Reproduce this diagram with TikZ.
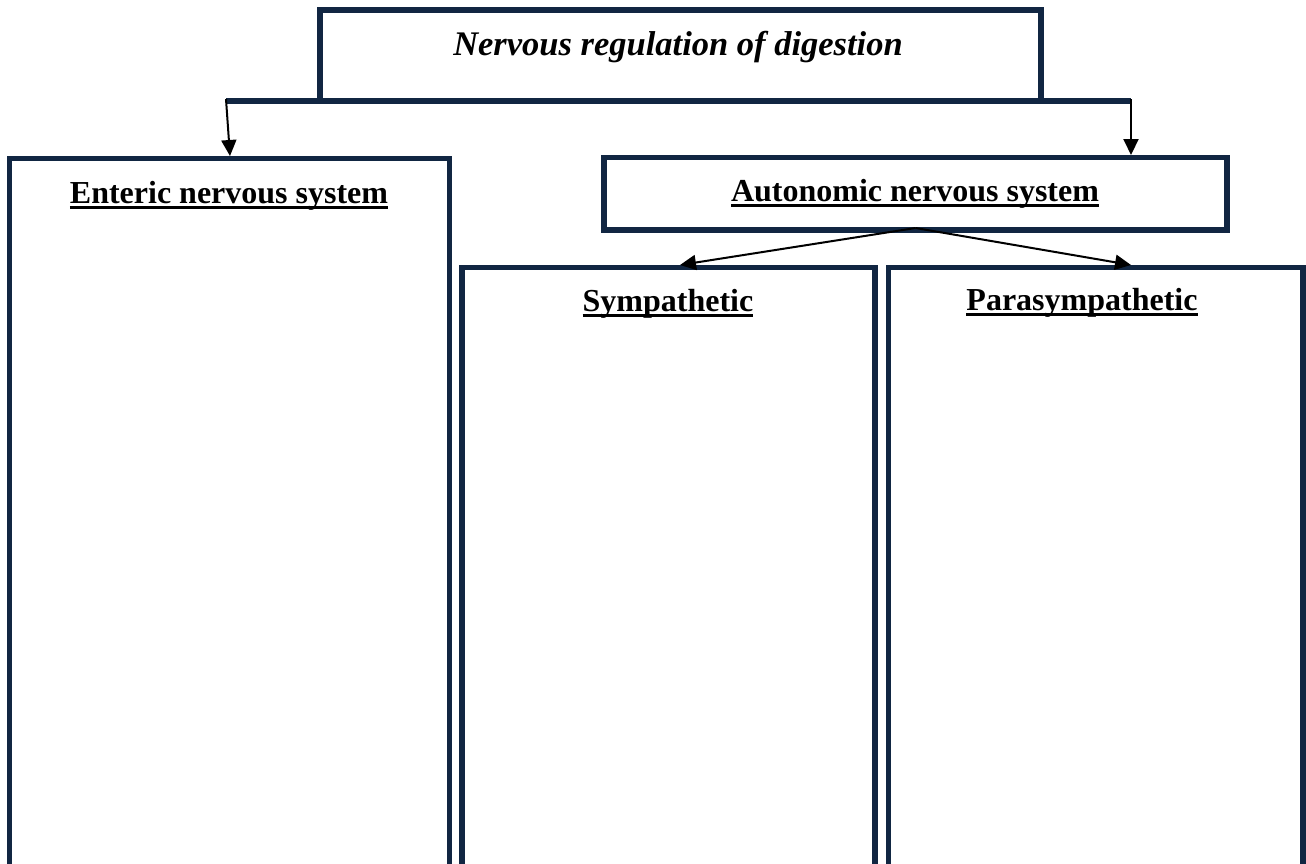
\documentclass[tikz,border=0pt]{standalone}
\usepackage{fontspec}
\setmainfont{Liberation Serif}
\usetikzlibrary{arrows.meta}
\definecolor{framecol}{RGB}{17,38,66}
\newsavebox\ulbox
% bold heading with a heavy underline
\newcommand{\ulhead}[1]{\sbox\ulbox{#1}\rlap{\rule[-6pt]{\wd\ulbox}{3pt}}\usebox\ulbox}
\begin{document}
\begin{tikzpicture}[x=1pt,y=-1pt,
  panel/.style={draw=framecol, line width=5.5pt, inner sep=0pt, outer sep=0pt, anchor=north west},
  link/.style={draw=black, line width=2pt, -{Triangle[width=15pt,length=16pt]}},
  bar/.style={draw=framecol, line width=5.5pt},
  heading/.style={font=\fontsize{32}{38}\selectfont\bfseries, inner sep=0pt, anchor=base}]
\useasboundingbox (0,0) rectangle (1306,863);
\clip (0,0) rectangle (1306,863);

% boxes (the tall ones run past the lower edge)
\node[panel, minimum width=721pt, minimum height=91pt] (title) at (320,10) {};
\node[panel, minimum width=440pt, minimum height=760pt] (enteric) at (9.5,158.5) {};
\node[panel, minimum width=623pt, minimum height=72.5pt] (autonomic) at (604,157.5) {};
\node[panel, minimum width=413pt, minimum height=650pt] (symp) at (462,267.5) {};
\node[panel, minimum width=414.5pt, minimum height=650pt] (parasymp) at (888.5,267.5) {};

% branch bar under the title
\coordinate (bl) at (226,101);
\coordinate (br) at (1131,101);
\draw[bar] (bl) -- (br);

% arrow ends on the box tops
\coordinate (et) at (230,156);
\coordinate (at) at (1131,155);
\coordinate (st) at (680,265);
\coordinate (pt) at (1131,265);

\draw[link] ([yshift=2pt]bl) -- (et);
\draw[link] ([yshift=2pt]br) -- (at);
\draw[link] ([yshift=2pt]autonomic.south) -- (st);
\draw[link] ([yshift=2pt]autonomic.south) -- (pt);

% headings
\node[heading, font=\fontsize{34.5}{40}\selectfont\bfseries\itshape] (titletext) at (678,55) {Nervous regulation of digestion};
\node[heading] (entericext) at (229,203) {\ulhead{Enteric nervous system}};
\node[heading] (autonomictext) at (915,201) {\ulhead{Autonomic nervous system}};
\node[heading] (symptext) at (668,311) {\ulhead{Sympathetic}};
\node[heading] (parasymptext) at (1082,310) {\ulhead{Parasympathetic}};
\end{tikzpicture}
\end{document}
